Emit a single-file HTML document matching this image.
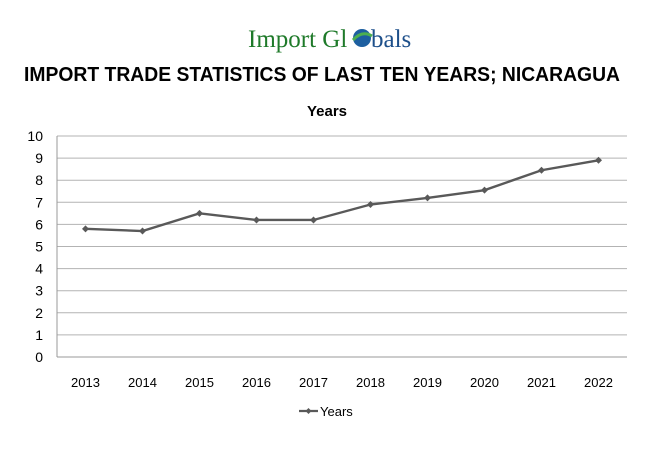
<!DOCTYPE html>
<html><head><meta charset="utf-8"><style>
body{margin:0;background:#fff;}
svg{display:block;font-family:"Liberation Sans",Calibri,sans-serif;}
</style></head><body>
<svg id="chart" width="650" height="450">
<g>
<text x="248" y="47" font-family="Liberation Serif,serif" font-size="25" fill="#1f7a2a">Import Gl</text>
<circle cx="362" cy="38" r="9" fill="#1d5fa0"/>
<path d="M353 40 Q362 30 372 36" stroke="#4caf50" stroke-width="3" fill="none"/>
<text x="371" y="47" font-family="Liberation Serif,serif" font-size="25" fill="#1d4f8a">bals</text>
</g>
<text x="24" y="81" textLength="596" lengthAdjust="spacingAndGlyphs" font-size="20" font-weight="bold" fill="#000">IMPORT TRADE STATISTICS OF LAST TEN YEARS; NICARAGUA</text>
<text x="327" y="116" text-anchor="middle" font-size="15" font-weight="bold" fill="#000">Years</text>
<g id="grid"></g><g id="axes"></g><g id="series"></g>
<g>
<line x1="299" y1="411" x2="318" y2="411" stroke="#595959" stroke-width="2.2"/>
<path d="M308.5 408 L311.5 411 L308.5 414 L305.5 411Z" fill="#595959"/>
<text x="320" y="416" font-size="13" fill="#000">Years</text>
</g>
</svg>
<script>
const categories=["2013","2014","2015","2016","2017","2018","2019","2020","2021","2022"];
const values=[5.8,5.7,6.5,6.2,6.2,6.9,7.2,7.55,8.45,8.9];
const yTicks=[0,1,2,3,4,5,6,7,8,9,10];
const NS="http://www.w3.org/2000/svg";
const L=57,R=627,T=136,B=357;
const x=i=>L+(R-L)/categories.length*(i+0.5);
const y=v=>B-(B-T)*v/10;
function mk(t,a,p){const e=document.createElementNS(NS,t);for(const k in a)e.setAttribute(k,a[k]);document.getElementById(p).appendChild(e);return e;}
yTicks.forEach(v=>{
 const g=mk("line",{x1:L,x2:R,y1:y(v),y2:y(v),stroke:v===0?"#999":"#b3b3b3","stroke-width":1},"grid");
 
 
 const t=mk("text",{x:43,y:y(v)+5,"text-anchor":"end","font-size":14,fill:"#000"},"axes");
 t.textContent=v;
 
 
});
const ax=mk("line",{x1:L,x2:L,y1:T,y2:B,stroke:"#999"},"axes");


categories.forEach((c,i)=>{
 const t=mk("text",{x:x(i),y:387,"text-anchor":"middle","font-size":13,fill:"#000"},"axes");
 t.textContent=c;
 
 
});
const pl=mk("polyline",{points:values.map((v,i)=>x(i)+","+y(v)).join(" "),fill:"none",stroke:"#595959","stroke-width":2.4},"series");


values.forEach((v,i)=>{
 const px=x(i),py=y(v);
 const m=mk("path",{d:`M${px} ${py-3.5}L${px+3.5} ${py}L${px} ${py+3.5}L${px-3.5} ${py}Z`,fill:"#595959"},"series");
 
 
});
</script>
</body></html>
